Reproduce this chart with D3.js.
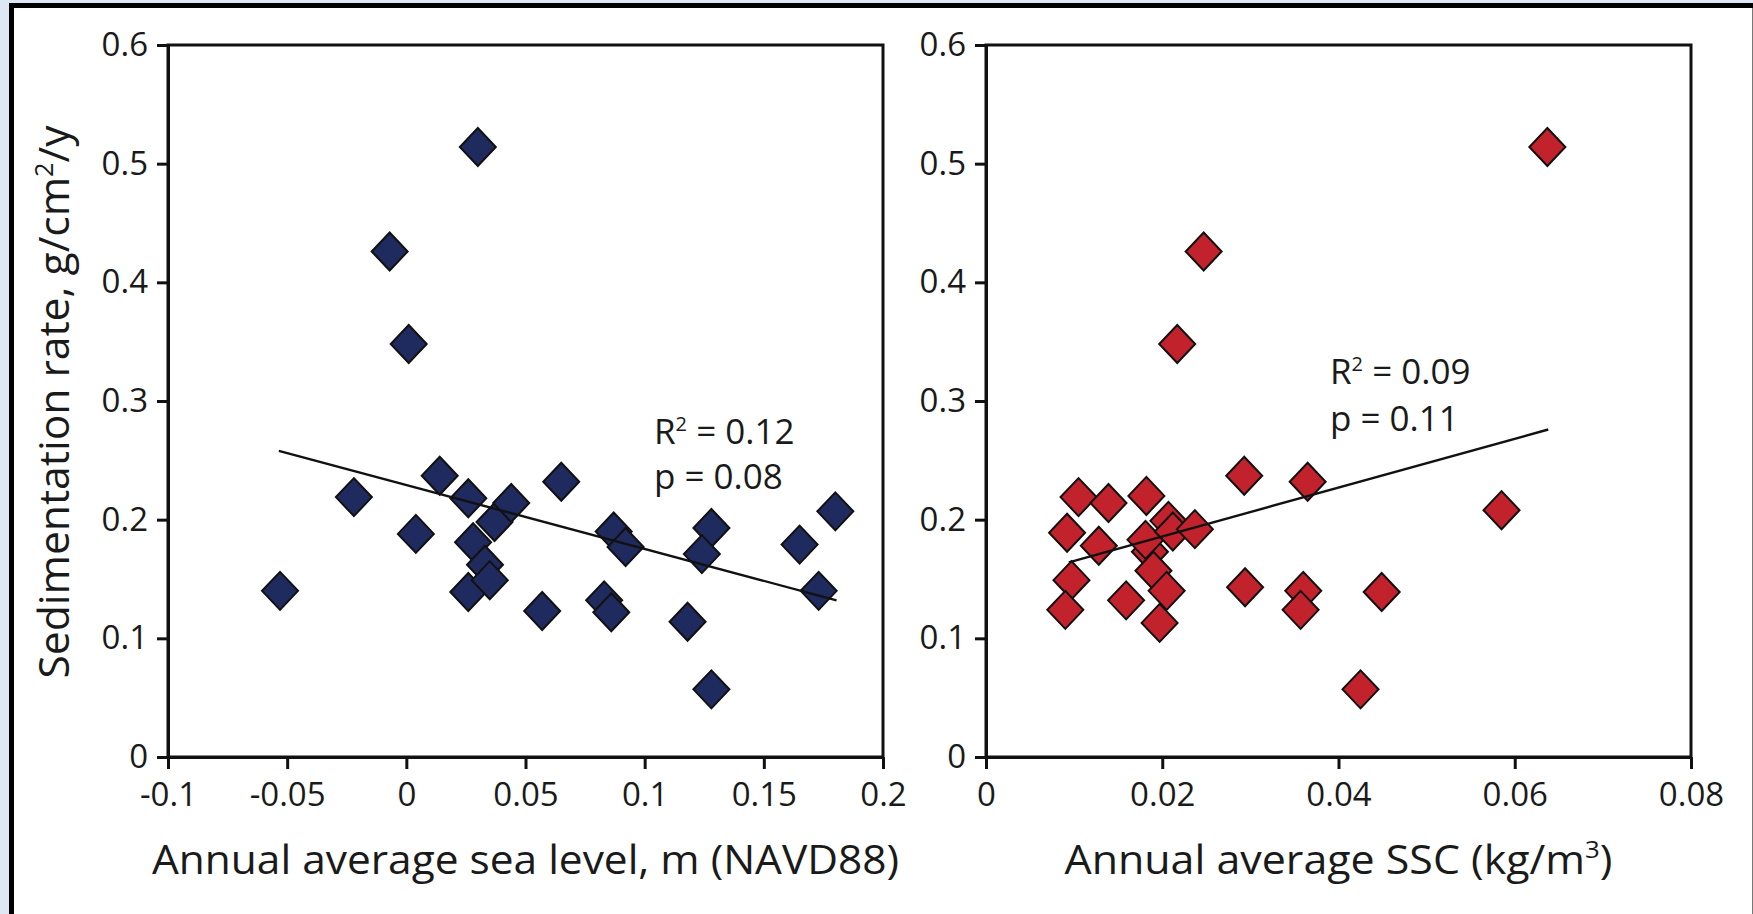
<!DOCTYPE html>
<html>
<head>
<meta charset="utf-8">
<script src="https://cdn.jsdelivr.net/npm/d3@7"></script>
<style>
  html, body { margin: 0; padding: 0; background: #dee8f4; }
  svg { display: block; }
  text { font-family: "Open Sans", "Noto Sans", sans-serif; fill: #1a1a1a; }
</style>
</head>
<body>
<svg id="chart" width="1753" height="914"></svg>
<script>
// ---------- data ----------
const seaLevel = [-0.053, -0.022, -0.007, 0.001, 0.004, 0.014, 0.030, 0.026, 0.028, 0.033, 0.026, 0.035, 0.037, 0.044, 0.065, 0.057, 0.087, 0.092, 0.083, 0.086, 0.128, 0.124, 0.118, 0.128, 0.165, 0.173, 0.180];
const sedLeft  = [0.140, 0.219, 0.426, 0.348, 0.188, 0.237, 0.514, 0.218, 0.181, 0.162, 0.139, 0.149, 0.198, 0.214, 0.232, 0.123, 0.190, 0.177, 0.132, 0.122, 0.193, 0.171, 0.114, 0.057, 0.179, 0.140, 0.207];

const ssc      = [0.0092, 0.0105, 0.0139, 0.0182, 0.0128, 0.0097, 0.0090, 0.0159, 0.0186, 0.0181, 0.0190, 0.0205, 0.0197, 0.0207, 0.0212, 0.0237, 0.0293, 0.0365, 0.0294, 0.0360, 0.0357, 0.0449, 0.0425, 0.0585, 0.0637, 0.0247, 0.0217];
const sedRight = [0.189, 0.219, 0.214, 0.220, 0.178, 0.149, 0.124, 0.132, 0.173, 0.183, 0.157, 0.140, 0.113, 0.199, 0.190, 0.192, 0.237, 0.232, 0.143, 0.140, 0.124, 0.139, 0.057, 0.208, 0.514, 0.426, 0.348];

const trendLeftX  = [-0.0535, 0.1805];
const trendLeftY  = [0.258, 0.132];
const trendRightX = [0.0094, 0.0638];
const trendRightY = [0.164, 0.276];

const xTicksLeft  = [-0.1, -0.05, 0, 0.05, 0.1, 0.15, 0.2];
const xLabelsLeft = ["-0.1", "-0.05", "0", "0.05", "0.1", "0.15", "0.2"];
const xTicksRight  = [0, 0.02, 0.04, 0.06, 0.08];
const xLabelsRight = ["0", "0.02", "0.04", "0.06", "0.08"];
const yTicks  = [0, 0.1, 0.2, 0.3, 0.4, 0.5, 0.6];
const yLabels = ["0", "0.1", "0.2", "0.3", "0.4", "0.5", "0.6"];

const statsLeft  = ["0.12", "0.08"];
const statsRight = ["0.09", "0.11"];

// ---------- layout ----------
const svg = d3.select("#chart");
const W = 1753, H = 914;

// outer frame
svg.append("rect").attr("x", 9).attr("y", 3).attr("width", W - 9).attr("height", H - 3).attr("fill", "#ffffff");
svg.append("line").attr("x1", 9).attr("x2", W).attr("y1", 5.5).attr("y2", 5.5).attr("stroke", "#000").attr("stroke-width", 5);
svg.append("line").attr("x1", 11.5).attr("x2", 11.5).attr("y1", 3).attr("y2", H).attr("stroke", "#000").attr("stroke-width", 5);
svg.append("line").attr("x1", W - 0.5).attr("x2", W - 0.5).attr("y1", 8).attr("y2", H).attr("stroke", "#777").attr("stroke-width", 1);

const yTop = 45, yBot = 757;
const yScale = d3.scaleLinear().domain([0, 0.6]).range([yBot, yTop]);

const diamond = "M0,-19L18,0L0,19L-18,0Z";

function panel(opts) {
  const x = d3.scaleLinear().domain(opts.xDomain).range(opts.xRange);
  const g = svg.append("g");

  // frame (top & right)
  g.append("rect")
    .attr("x", opts.xRange[0]).attr("y", yTop)
    .attr("width", opts.xRange[1] - opts.xRange[0]).attr("height", yBot - yTop)
    .attr("fill", "none").attr("stroke", "#111").attr("stroke-width", 3);

  // y axis
  const yAxis = d3.axisLeft(yScale).tickValues(yTicks)
    .tickFormat((d, i) => yLabels[i]).tickSizeInner(11).tickSizeOuter(0).tickPadding(9);
  const ya = g.append("g").attr("transform", `translate(${opts.xRange[0]},0)`).call(yAxis);
  ya.select(".domain").attr("stroke", "#111").attr("stroke-width", 3);
  ya.selectAll(".tick line").attr("stroke", "#111").attr("stroke-width", 3);
  ya.selectAll(".tick text").style("font-size", "33px").attr("fill", "#1a1a1a")
    .style("font-family", "'Open Sans', sans-serif");

  // x axis
  const xAxis = d3.axisBottom(x).tickValues(opts.xTicks)
    .tickFormat((d, i) => opts.xLabels[i]).tickSizeInner(12).tickSizeOuter(0).tickPadding(14);
  const xa = g.append("g").attr("transform", `translate(0,${yBot})`).call(xAxis);
  xa.select(".domain").attr("stroke", "#111").attr("stroke-width", 3);
  xa.selectAll(".tick line").attr("stroke", "#111").attr("stroke-width", 3);
  xa.selectAll(".tick text").style("font-size", "33px").attr("fill", "#1a1a1a")
    .style("font-family", "'Open Sans', sans-serif");

  // points
  g.append("g").selectAll("path")
    .data(opts.xs.map((v, i) => [v, opts.ys[i]]))
    .join("path")
    .attr("d", diamond)
    .attr("transform", d => `translate(${x(d[0])},${yScale(d[1])})`)
    .attr("fill", opts.color).attr("stroke", "#111").attr("stroke-width", 2)
    .attr("stroke-linejoin", "miter");

  // trend line
  g.append("line")
    .attr("x1", x(opts.tx[0])).attr("y1", yScale(opts.ty[0]))
    .attr("x2", x(opts.tx[1])).attr("y2", yScale(opts.ty[1]))
    .attr("stroke", "#111").attr("stroke-width", 2.4);

  // stats annotation
  const t1 = g.append("text").attr("x", opts.statX).attr("y", opts.statY).style("font-size", "35px");
  t1.append("tspan").text("R");
  t1.append("tspan").attr("dy", -13).style("font-size", "20px").text("2");
  t1.append("tspan").attr("dy", 13).text(" = " + opts.stats[0]);
  g.append("text").attr("x", opts.statX).attr("y", opts.statY + opts.statGap).style("font-size", "35px")
    .text("p = " + opts.stats[1]);

  // x title
  const tt = g.append("text")
    .attr("x", (opts.xRange[0] + opts.xRange[1]) / 2).attr("y", 874)
    .attr("text-anchor", "middle").style("font-size", "40px");
  opts.title(tt);
  tt.attr("textLength", opts.titleLen).attr("lengthAdjust", "spacingAndGlyphs");
}

panel({
  xDomain: [-0.1, 0.2], xRange: [168, 883],
  xTicks: xTicksLeft, xLabels: xLabelsLeft,
  xs: seaLevel, ys: sedLeft, color: "#1f2b5e",
  tx: trendLeftX, ty: trendLeftY,
  stats: statsLeft, statX: 654, statY: 444, statGap: 45,
  titleLen: 747,
  title: t => t.text("Annual average sea level, m (NAVD88)")
});

panel({
  xDomain: [0, 0.08], xRange: [986, 1691],
  xTicks: xTicksRight, xLabels: xLabelsRight,
  xs: ssc, ys: sedRight, color: "#c1222b",
  tx: trendRightX, ty: trendRightY,
  stats: statsRight, statX: 1330, statY: 384, statGap: 47,
  titleLen: 548,
  title: t => {
    t.append("tspan").text("Annual average SSC (kg/m");
    t.append("tspan").attr("dy", -16).style("font-size", "24px").text("3");
    t.append("tspan").attr("dy", 16).text(")");
  }
});

// y title
const yt = svg.append("text")
  .attr("transform", "translate(69,402) rotate(-90)")
  .attr("text-anchor", "middle").style("font-size", "42px");
yt.append("tspan").text("Sedimentation rate, g/cm");
yt.append("tspan").attr("dy", -16).style("font-size", "25px").text("2");
yt.append("tspan").attr("dy", 16).text("/y");
yt.attr("textLength", 553).attr("lengthAdjust", "spacingAndGlyphs");
</script>
</body>
</html>
